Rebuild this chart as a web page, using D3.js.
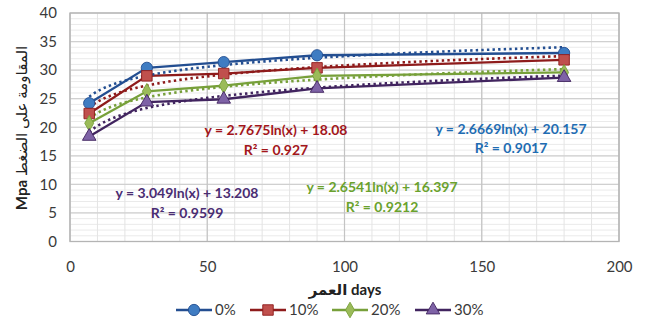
<!DOCTYPE html>
<html><head><meta charset="utf-8">
<script src="https://cdn.jsdelivr.net/npm/d3@7"></script>
<style>
html,body{margin:0;padding:0;background:#fff;}
svg{display:block;font-family:Lato,"DejaVu Sans",sans-serif;}
</style></head>
<body>
<svg id="c" width="647" height="325"></svg>
<script>
// ---- data ----
const days = [7, 28, 56, 90, 180];
const seriesNames = ["0%", "10%", "20%", "30%"];
const v0 = [24.2, 30.4, 31.4, 32.6, 33.0];
const v10 = [22.4, 29.0, 29.4, 30.4, 31.8];
const v20 = [20.7, 26.3, 27.3, 29.0, 29.6];
const v30 = [18.4, 24.4, 24.9, 26.8, 28.7];
const trendA = [2.6669, 2.7675, 2.6541, 3.049];
const trendB = [20.157, 18.08, 16.397, 13.208];
const trendR2 = ["0.9017", "0.927", "0.9212", "0.9599"];
const xTicks = [0, 50, 100, 150, 200];
const yTicks = [0, 5, 10, 15, 20, 25, 30, 35, 40];

// ---- styles ----
const lineCol = ["#234E91", "#8E1B1B", "#77A03A", "#41245F"];
const fillCol = ["#3F7CC2", "#C0504D", "#9BBB59", "#7E62A6"];
const textCol = ["#1F6DB3", "#A3161B", "#6AA22D", "#4A2D73"];
const shapes = [d3.symbolCircle, d3.symbolSquare, d3.symbolDiamond, d3.symbolTriangle];
const shapeSize = [100, 110, 70, 80];
const eqPos = [[511, 129, 148], [276, 130, 150], [382, 187, 207], [187, 193, 213]];

const svg = d3.select("#c");
const x = d3.scaleLinear([0, 200], [70, 619]);
const y = d3.scaleLinear([0, 40], [241.5, 13]);

// grid
const g = svg.append("g");
g.selectAll(".hm").data(d3.range(0, 41)).join("line")
  .attr("x1", 70).attr("x2", 619).attr("y1", d => y(d)).attr("y2", d => y(d))
  .attr("stroke", "#EAEAEA").attr("stroke-width", 1);
g.selectAll(".vm").data(d3.range(0, 201, 10)).join("line")
  .attr("y1", 13).attr("y2", 241.5).attr("x1", d => x(d)).attr("x2", d => x(d))
  .attr("stroke", "#E4E4E4").attr("stroke-width", 1);
g.selectAll(".hM").data(yTicks).join("line")
  .attr("x1", 70).attr("x2", 619).attr("y1", d => y(d)).attr("y2", d => y(d))
  .attr("stroke", "#D0D0D0").attr("stroke-width", 1.2);
g.selectAll(".vM").data(xTicks).join("line")
  .attr("y1", 13).attr("y2", 241.5).attr("x1", d => x(d)).attr("x2", d => x(d))
  .attr("stroke", "#C4C4C4").attr("stroke-width", 1.2);
g.append("rect").attr("x", 70).attr("y", 13).attr("width", 549).attr("height", 228.5)
  .attr("fill", "none").attr("stroke", "#B4B4B4").attr("stroke-width", 1.3);

// axes
const ax = svg.append("g").attr("transform", "translate(0,241.5)")
  .call(d3.axisBottom(x).tickValues(xTicks).tickSize(0).tickPadding(20));
const ay = svg.append("g").attr("transform", "translate(70,0)")
  .call(d3.axisLeft(y).tickValues(yTicks).tickSize(0).tickPadding(13));
[ax, ay].forEach(a => {
  a.select(".domain").remove();
  a.selectAll("text").attr("font-family", "Lato, sans-serif").attr("font-size", 15).attr("fill", "#3A3A3A");
});

// series
const allVals = [v0, v10, v20, v30];
const line = d3.line().x(d => x(d[0])).y(d => y(d[1]));
allVals.forEach((vals, i) => {
  const pts = days.map((d, j) => [d, vals[j]]);
  svg.append("path").attr("d", line(pts)).attr("fill", "none")
    .attr("stroke", lineCol[i]).attr("stroke-width", 2.3);
});
// trendlines
allVals.forEach((vals, i) => {
  const tp = d3.range(7, 180.5, 1).map(t => [t, trendA[i] * Math.log(t) + trendB[i]]);
  svg.append("path").attr("d", line(tp)).attr("fill", "none")
    .attr("stroke", lineCol[i]).attr("stroke-width", 2.6)
    .attr("stroke-dasharray", "2.4,3.2");
});
// markers
allVals.forEach((vals, i) => {
  svg.append("g").selectAll("path").data(days.map((d, j) => [d, vals[j]])).join("path")
    .attr("transform", d => `translate(${x(d[0])},${y(d[1])})`)
    .attr("d", d3.symbol(shapes[i], shapeSize[i]))
    .attr("fill", fillCol[i]).attr("stroke", lineCol[i]).attr("stroke-width", 0.9);
});

// equations
seriesNames.forEach((n, i) => {
  const p = eqPos[i];
  svg.append("text").attr("x", p[0]).attr("y", p[1]).attr("dy", "0.35em")
    .attr("text-anchor", "middle").attr("font-weight", "bold").attr("font-size", 14)
    .attr("fill", textCol[i])
    .text(`y = ${trendA[i]}ln(x) + ${trendB[i]}`);
  svg.append("text").attr("x", p[0]).attr("y", p[2]).attr("dy", "0.35em")
    .attr("text-anchor", "middle").attr("font-weight", "bold").attr("font-size", 14)
    .attr("fill", textCol[i])
    .text(`R² = ${trendR2[i]}`);
});

// axis titles
svg.append("text").attr("x", 345).attr("y", 290).attr("dy", "0.35em")
  .attr("text-anchor", "middle").attr("font-weight", "bold").attr("font-size", 15)
  .attr("fill", "#222").text("العمر days");
const yt = svg.append("text").attr("transform", "translate(22,128) rotate(-90)")
  .attr("direction", "rtl").attr("text-anchor", "middle").attr("dy", "0.35em")
  .attr("font-size", 15).attr("fill", "#222");
yt.append("tspan").attr("font-weight", "normal").text("المقاومة على الضغط ");
yt.append("tspan").attr("font-weight", "bold").attr("font-family", "Lato, sans-serif").text("Mpa");

// legend
const legX = [176, 250, 332, 415];
const leg = svg.append("g");
seriesNames.forEach((n, i) => {
  const lx = legX[i], ly = 310;
  leg.append("line").attr("x1", lx).attr("x2", lx + 36).attr("y1", ly).attr("y2", ly)
    .attr("stroke", lineCol[i]).attr("stroke-width", 2.3);
  leg.append("path").attr("transform", `translate(${lx + 18},${ly})`)
    .attr("d", d3.symbol(shapes[i], shapeSize[i]))
    .attr("fill", fillCol[i]).attr("stroke", lineCol[i]).attr("stroke-width", 0.9);
  leg.append("text").attr("x", lx + 39).attr("y", ly).attr("dy", "0.35em")
    .attr("font-size", 15).attr("fill", "#3A3A3A").text(n);
});
</script>
</body></html>
